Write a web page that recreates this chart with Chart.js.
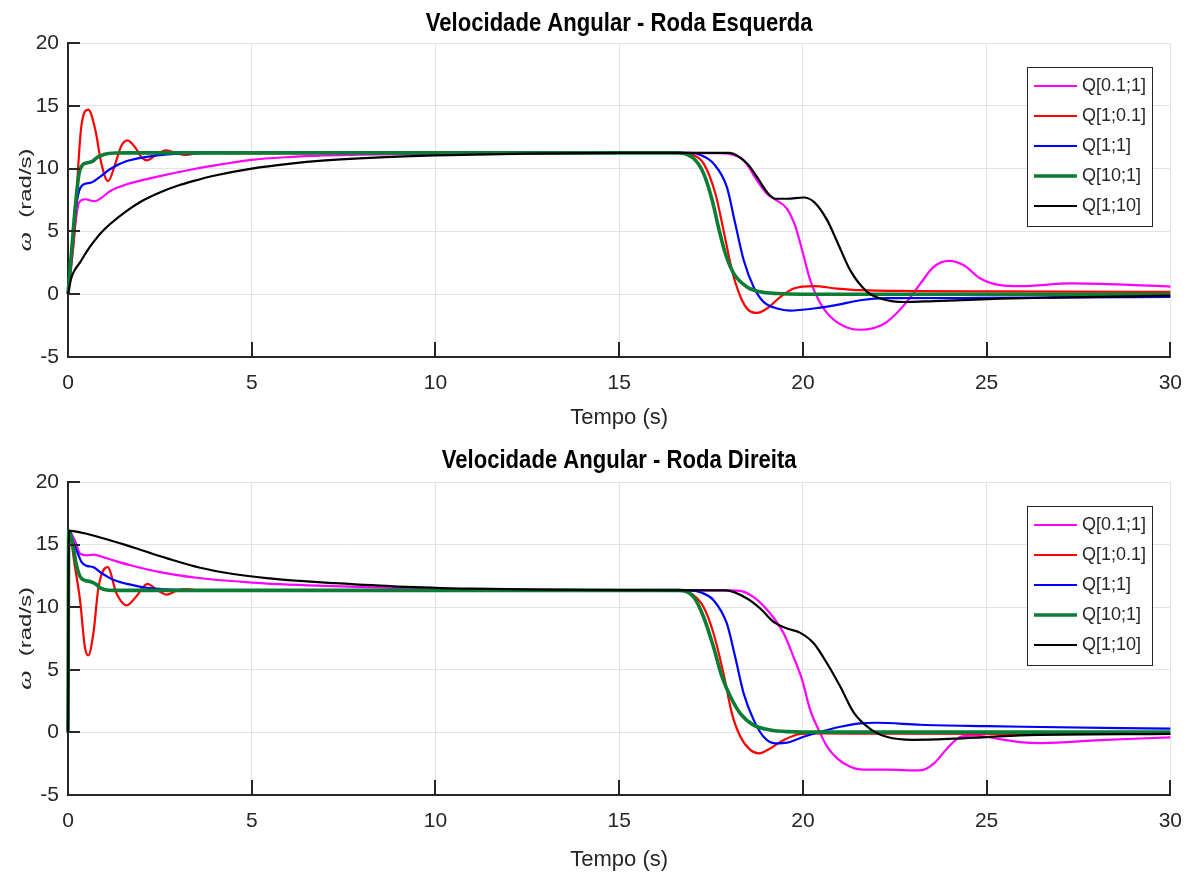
<!DOCTYPE html>
<html>
<head>
<meta charset="utf-8">
<script src="https://cdn.jsdelivr.net/npm/chart.js@4.4.1/dist/chart.umd.min.js"></script>
<style>
  html, body { margin:0; padding:0; background:#fff; overflow:hidden; }
  #wrap { position:relative; width:1191px; height:875px; overflow:hidden; }
  canvas { position:absolute; left:0; }
  #esq { top:0; }
  #dir { top:437px; }
</style>
</head>
<body>
<div id="wrap">
  <canvas id="esq" width="1196" height="437"></canvas>
  <canvas id="dir" width="1196" height="438"></canvas>
</div>
<script>
const FONT = "'Liberation Sans', Arial, sans-serif";
const INK = '#262626';

const xTicks = [0, 5, 10, 15, 20, 25, 30];
const yTicks = [-5, 0, 5, 10, 15, 20];
const seriesNames = ['Q[0.1;1]', 'Q[1;0.1]', 'Q[1;1]', 'Q[10;1]', 'Q[1;10]'];
const seriesColors = ['#ff00ff', '#ff0000', '#0000ff', '#0b7d34', '#000000'];
const seriesWidths = [2.2, 2.2, 2.2, 3.6, 2.2];

// ---- Roda Esquerda ----
// Q[0.1;1]
const tEsq1 = [0, 0.1, 0.2, 0.3, 0.46, 0.72, 0.9, 1.14, 1.6, 2.5, 3.4, 4.2, 5, 6, 7, 8, 10, 12, 14, 16.5, 17.8, 18.1, 18.39, 18.75, 19.02, 19.25, 19.57, 19.8, 19.98, 20.2, 20.43, 20.75, 21.2, 21.56, 21.9, 22.29, 22.83, 23.2, 23.56, 23.97, 24.38, 24.83, 25.37, 25.9, 27.3, 28.9, 30];
const wEsq1 = [0, 2.5, 5.6, 7.3, 7.56, 7.4, 7.65, 8.2, 8.75, 9.4, 9.95, 10.35, 10.7, 10.92, 11.05, 11.12, 11.2, 11.24, 11.25, 11.25, 11.23, 11.1, 10.66, 9.07, 8.0, 7.53, 6.8, 5.36, 3.5, 1.11, -0.48, -1.8, -2.65, -2.83, -2.72, -2.2, -0.61, 0.85, 2.17, 2.65, 2.3, 1.25, 0.72, 0.64, 0.86, 0.75, 0.61];
// Q[1;0.1]
const tEsq2 = [0, 0.08, 0.18, 0.27, 0.36, 0.55, 0.75, 0.9, 1.09, 1.3, 1.45, 1.62, 1.85, 2.0, 2.15, 2.4, 2.66, 2.9, 3.18, 3.7, 4.3, 10, 16.6, 17.0, 17.3, 17.62, 17.84, 18.07, 18.3, 18.52, 18.75, 19.02, 19.39, 19.75, 20.3, 20.93, 21.56, 23, 25, 30];
const wEsq2 = [0, 2.2, 5, 9.8, 13.3, 14.7, 13.0, 10.5, 9.0, 10.5, 11.8, 12.25, 11.6, 10.9, 10.66, 11.1, 11.46, 11.3, 11.09, 11.3, 11.22, 11.25, 11.25, 11.1, 10.4, 8.0, 5.1, 1.9, -0.2, -1.27, -1.49, -1.14, -0.21, 0.45, 0.64, 0.45, 0.32, 0.25, 0.22, 0.18];
// Q[1;1]
const tEsq3 = [0, 0.1, 0.2, 0.3, 0.4, 0.64, 0.85, 1.14, 1.6, 2.14, 2.7, 3.4, 4.2, 16.9, 17.25, 17.57, 17.93, 18.16, 18.39, 18.66, 18.93, 19.3, 19.65, 20.3, 20.93, 21.56, 22.3, 24.75, 27, 30];
const wEsq3 = [0, 3.2, 6.5, 8.2, 8.7, 8.9, 9.3, 9.95, 10.6, 10.93, 11.14, 11.22, 11.25, 11.25, 11.05, 10.4, 8.54, 5.6, 2.7, 0.58, -0.61, -1.14, -1.3, -1.14, -0.85, -0.48, -0.32, -0.3, -0.26, -0.22];
// Q[10;1]
const tEsq4 = [0, 0.1, 0.2, 0.3, 0.4, 0.5, 0.65, 0.8, 1.0, 1.3, 1.6, 16.6, 17.03, 17.3, 17.53, 17.7, 17.89, 18.12, 18.48, 18.84, 19.3, 20, 30];
const wEsq4 = [0, 3.5, 7, 9.6, 10.3, 10.45, 10.55, 10.9, 11.15, 11.24, 11.25, 11.25, 10.8, 9.6, 7.5, 5.36, 3.24, 1.64, 0.58, 0.19, 0.05, 0, 0];
// Q[1;10]
const tEsq5 = [0, 0.09, 0.2, 0.32, 0.5, 0.68, 0.9, 1.14, 1.6, 2.0, 2.5, 3.0, 3.4, 4.0, 5, 6, 7, 8.5, 10, 12.5, 15, 18.0, 18.48, 18.75, 19.02, 19.25, 19.57, 20.02, 20.3, 20.66, 20.93, 21.29, 21.75, 22.2, 22.75, 23.56, 25.37, 26.8, 30];
const wEsq5 = [0, 1.3, 2.0, 2.5, 3.35, 4.1, 4.9, 5.57, 6.63, 7.4, 8.1, 8.65, 9.0, 9.45, 10.0, 10.38, 10.65, 10.9, 11.05, 11.2, 11.25, 11.25, 10.4, 9.34, 8.14, 7.6, 7.6, 7.7, 7.35, 5.9, 4.2, 1.9, 0.19, -0.42, -0.62, -0.55, -0.36, -0.27, -0.12];

// ---- Roda Direita ----
// Q[0.1;1]
const tDir1 = [0, 0.02, 0.19, 0.33, 0.51, 0.69, 1.0, 1.7, 2.5, 3.5, 5, 7, 9, 11, 13, 15, 18.0, 18.3, 18.66, 19.11, 19.48, 19.75, 19.98, 20.2, 20.43, 20.66, 20.93, 21.29, 21.56, 22.3, 23.2, 23.56, 23.92, 24.28, 24.64, 25.0, 25.9, 26.5, 28.1, 30];
const wDir1 = [0, 16.1, 15.3, 14.27, 14.14, 14.2, 13.95, 13.35, 12.8, 12.35, 11.97, 11.7, 11.53, 11.44, 11.38, 11.35, 11.34, 11.3, 10.8, 9.5, 7.9, 6.0, 4.2, 1.78, 0.19, -1.14, -2.07, -2.74, -2.95, -2.98, -3.04, -2.5, -1.3, -0.37, -0.24, -0.37, -0.77, -0.85, -0.61, -0.4];
// Q[1;0.1]
const tDir2 = [0, 0.02, 0.19, 0.33, 0.46, 0.55, 0.69, 0.83, 1.08, 1.32, 1.6, 1.87, 2.16, 2.41, 2.69, 2.96, 3.23, 3.7, 4.3, 16.7, 17.0, 17.3, 17.57, 17.84, 18.07, 18.3, 18.57, 18.8, 19.11, 19.48, 19.93, 20.48, 22, 30];
const wDir2 = [0, 16.1, 13.2, 10.5, 6.8, 6.15, 7.9, 11.6, 13.2, 11.1, 10.15, 10.9, 11.87, 11.4, 11.0, 11.34, 11.45, 11.3, 11.34, 11.34, 11.0, 10.0, 7.9, 4.7, 1.5, -0.35, -1.4, -1.68, -1.28, -0.61, -0.13, -0.08, -0.1, -0.12];
// Q[1;1]
const tDir3 = [0, 0.02, 0.12, 0.24, 0.37, 0.51, 0.69, 0.9, 1.23, 1.7, 2.2, 2.7, 3.2, 3.8, 16.9, 17.25, 17.57, 17.93, 18.16, 18.39, 18.66, 18.93, 19.25, 19.57, 20.02, 20.48, 21.02, 21.56, 22.0, 23.2, 25.0, 26, 30];
const wDir3 = [0, 16.1, 15.4, 14.5, 13.6, 13.3, 13.2, 12.75, 12.2, 11.8, 11.52, 11.42, 11.37, 11.34, 11.34, 11.15, 10.56, 8.7, 6.0, 3.1, 1.0, -0.35, -0.88, -0.82, -0.35, 0.05, 0.45, 0.72, 0.77, 0.61, 0.5, 0.45, 0.3];
// Q[10;1]
const tDir4 = [0, 0.02, 0.12, 0.22, 0.32, 0.45, 0.6, 0.75, 0.9, 1.1, 1.4, 16.6, 17.03, 17.3, 17.57, 17.8, 18.03, 18.3, 18.66, 19.11, 19.6, 20.5, 30];
const wDir4 = [0, 16.1, 15.2, 13.5, 12.5, 12.15, 12.05, 11.85, 11.5, 11.36, 11.34, 11.34, 10.8, 9.2, 6.8, 4.44, 2.85, 1.5, 0.58, 0.19, 0.06, 0.02, 0.02];
// Q[1;10]
const tDir5 = [0, 0.02, 0.9, 1.8, 2.7, 3.6, 4.5, 5.4, 6.3, 7.2, 9, 11, 13, 15, 17.9, 18.48, 18.84, 19.2, 19.57, 19.93, 20.3, 20.66, 21.02, 21.38, 21.83, 22.3, 23.0, 24.1, 25.0, 25.9, 30];
const wDir5 = [0, 16.1, 15.55, 14.75, 13.9, 13.15, 12.65, 12.32, 12.1, 11.93, 11.65, 11.48, 11.4, 11.36, 11.34, 10.7, 9.9, 8.83, 8.3, 7.95, 7.1, 5.5, 3.64, 1.6, 0.29, -0.37, -0.59, -0.5, -0.37, -0.24, -0.12];

const esqSeries = [[tEsq1, wEsq1], [tEsq2, wEsq2], [tEsq3, wEsq3], [tEsq4, wEsq4], [tEsq5, wEsq5]];
const dirSeries = [[tDir1, wDir1], [tDir2, wDir2], [tDir3, wDir3], [tDir4, wDir4], [tDir5, wDir5]];

// title centred over the axes, in a narrow bold face
const axesTitle = {
  id: 'axesTitle',
  afterDraw(chart, args, opts) {
    const { ctx, chartArea: a } = chart;
    ctx.save();
    ctx.translate((a.left + a.right) / 2, opts.y);
    ctx.scale(0.85, 1);
    ctx.fillStyle = '#000';
    ctx.font = 'bold 26px ' + FONT;
    ctx.textAlign = 'center';
    ctx.textBaseline = 'middle';
    ctx.fillText(opts.text, 0, 0);
    ctx.restore();
  }
};

// ticks pointing into the plot, left and bottom only
const innerTicks = {
  id: 'innerTicks',
  afterDatasetsDraw(chart) {
    const { ctx, chartArea: a, scales } = chart;
    ctx.save();
    ctx.strokeStyle = INK;
    ctx.lineWidth = 2;
    ctx.beginPath();
    yTicks.forEach(v => {
      const y = Math.round(scales.y.getPixelForValue(v));
      ctx.moveTo(a.left, y); ctx.lineTo(a.left + 12, y);
    });
    xTicks.forEach(v => {
      const x = Math.round(scales.x.getPixelForValue(v));
      ctx.moveTo(x, a.bottom); ctx.lineTo(x, a.bottom - 15);
    });
    ctx.stroke();
    ctx.restore();
  }
};

// y label: italic omega followed by the unit, squeezed across the line
const omegaLabel = {
  id: 'omegaLabel',
  afterDraw(chart) {
    const { ctx, chartArea: a } = chart;
    const sym = 'ω', unit = '(rad/s)';
    const symFont = 'italic 28px "Liberation Serif", serif';
    const unitFont = '24px ' + FONT;
    ctx.save();
    ctx.font = symFont;
    const ws = ctx.measureText(sym).width;
    ctx.font = unitFont;
    const wu = ctx.measureText(unit).width;
    const gap = 14;
    const total = ws + gap + wu;
    ctx.translate(26, (a.top + a.bottom) / 2);
    ctx.rotate(-Math.PI / 2);
    ctx.scale(1, 0.7);
    ctx.fillStyle = INK;
    ctx.textBaseline = 'middle';
    ctx.textAlign = 'left';
    ctx.font = symFont;
    ctx.fillText(sym, -total / 2, 0);
    ctx.font = unitFont;
    ctx.fillText(unit, -total / 2 + ws + gap, 0);
    ctx.restore();
  }
};

// boxed legend in the upper right corner of the axes
const boxLegend = {
  id: 'boxLegend',
  afterDraw(chart) {
    const { ctx, chartArea: a } = chart;
    const w = 125, h = 159;
    const x0 = Math.round(a.right - 18 - w), y0 = Math.round(a.top + 24);
    ctx.save();
    ctx.fillStyle = '#fff';
    ctx.fillRect(x0, y0, w, h);
    ctx.strokeStyle = INK;
    ctx.lineWidth = 1;
    ctx.strokeRect(x0 + 0.5, y0 + 0.5, w, h);
    ctx.font = '18px ' + FONT;
    ctx.textBaseline = 'middle';
    chart.data.datasets.forEach((ds, i) => {
      const y = y0 + 19 + i * 30;
      ctx.strokeStyle = ds.borderColor;
      ctx.lineWidth = ds.borderWidth;
      ctx.beginPath(); ctx.moveTo(x0 + 7, y); ctx.lineTo(x0 + 50, y); ctx.stroke();
      ctx.fillStyle = INK;
      ctx.fillText(ds.label, x0 + 55, y);
    });
    ctx.restore();
  }
};

function makeChart(id, title, series, topPad, titleY, xTitlePad) {
  const datasets = series.map(([t, w], i) => ({
    label: seriesNames[i],
    data: t.map((x, k) => ({ x, y: w[k] })),
    borderColor: seriesColors[i],
    borderWidth: seriesWidths[i],
    pointRadius: 0,
    fill: false,
    cubicInterpolationMode: 'monotone',
    clip: false,
    order: 4 - i   // later series drawn on top
  }));

  return new Chart(document.getElementById(id), {
    type: 'line',
    data: { datasets },
    options: {
      responsive: false,
      animation: false,
      devicePixelRatio: 1,
      layout: { padding: { left: 0, right: 0, top: topPad, bottom: 0 } },
      plugins: {
        legend: { display: false },
        tooltip: { enabled: false },
        title: { display: false },
        axesTitle: { text: title, y: titleY }
      },
      scales: {
        x: {
          type: 'linear',
          min: 0, max: 30,
          afterBuildTicks: s => { s.ticks = xTicks.map(v => ({ value: v })); },
          afterFit: s => { s.height = 80; },
          grid: { color: '#e3e3e3', lineWidth: 1, drawTicks: false },
          border: { display: true, color: INK, width: 2 },
          ticks: { color: INK, font: { family: FONT, size: 21 }, padding: 14, maxRotation: 0 },
          title: { display: true, text: 'Tempo (s)', color: INK, font: { family: FONT, size: 22 }, padding: { top: 0, bottom: xTitlePad } }
        },
        y: {
          type: 'linear',
          min: -5, max: 20,
          afterBuildTicks: s => { s.ticks = yTicks.map(v => ({ value: v })); },
          afterFit: s => { s.width = 68; },
          grid: { color: '#e3e3e3', lineWidth: 1, drawTicks: false },
          border: { display: true, color: INK, width: 2 },
          ticks: { color: INK, font: { family: FONT, size: 21 }, padding: 9 }
        }
      }
    },
    plugins: [innerTicks, omegaLabel, boxLegend, axesTitle]
  });
}

makeChart('esq', 'Velocidade Angular - Roda Esquerda', esqSeries, 43, 24, 6);
makeChart('dir', 'Velocidade Angular - Roda Direita', dirSeries, 45, 24, 2);
</script>
</body>
</html>
